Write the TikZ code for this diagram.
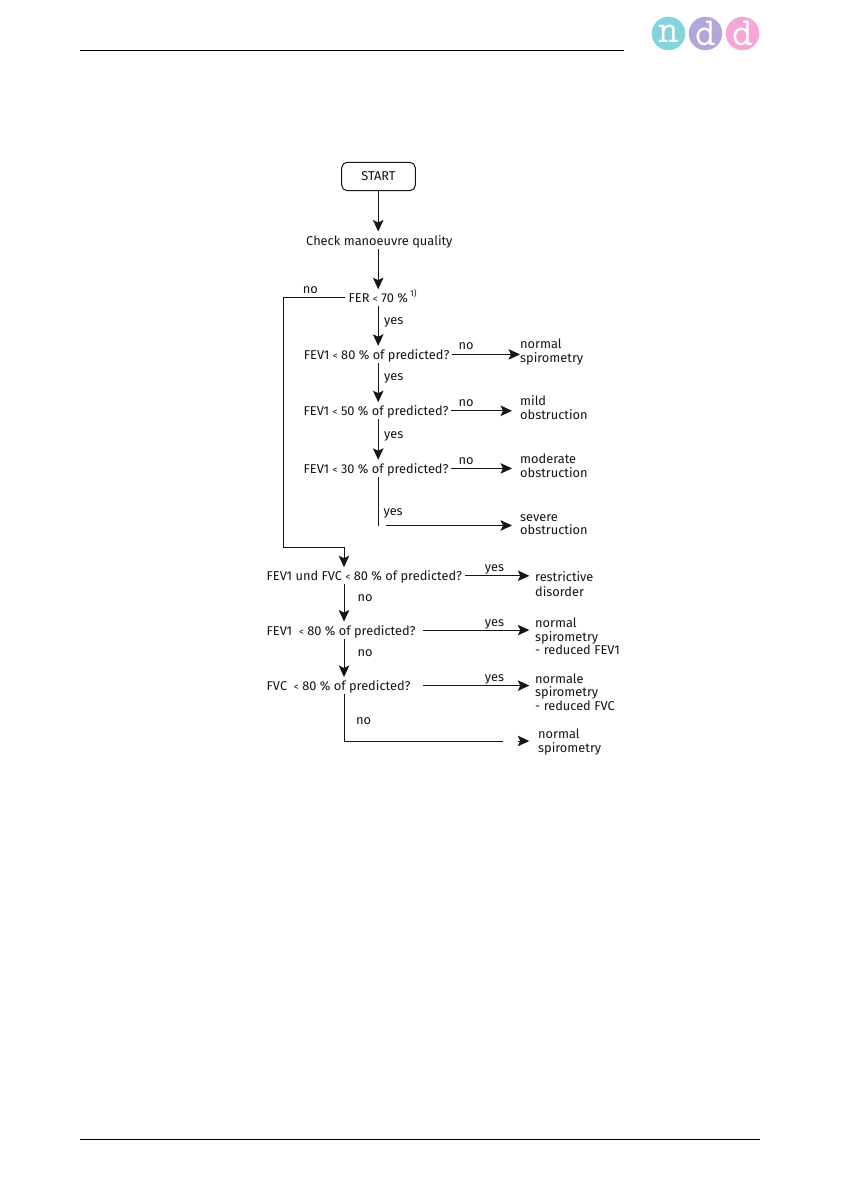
\documentclass[tikz,border=0pt]{standalone}
\usepackage{fontspec}
\setmainfont{Fira Sans}
\usetikzlibrary{arrows.meta}
\newcommand{\lessmark}{{\fontsize{10}{10}\selectfont <}}
\newcommand{\firstline}{\rule{0pt}{10pt}}
\definecolor{ink}{HTML}{151515}
\definecolor{logoteal}{HTML}{84D5DB}
\definecolor{logopurple}{HTML}{B3A6DA}
\definecolor{logopink}{HTML}{F6A6D4}
\tikzset{
  txt/.style={font=\fontsize{12.8}{13.5}\selectfont, text=ink},
  question/.style={txt, anchor=base west, inner xsep=2.5pt, inner ysep=3pt, text height=10.3pt, text depth=0.5pt},
  outcome/.style={txt, anchor=north west, inner sep=0pt, align=left},
  tag/.style={txt, anchor=base west, inner sep=0pt},
  startbox/.style={txt, draw=ink, line width=1pt, rounded corners=5.5pt, minimum width=73.6pt, minimum height=28.4pt, inner sep=0pt},
  wire/.style={draw=ink, line width=1pt},
  arr/.style={wire, -{Stealth[length=11.5pt,width=10.5pt,inset=2.5pt]}},
  rule/.style={draw=black, line width=0.8pt},
  logodisc/.style={circle, minimum size=33.5pt, inner sep=0pt, text=white, font=\ttfamily\fontsize{40}{40}\selectfont},
}
\begin{document}
\begin{tikzpicture}[x=1pt,y=-1pt]
\useasboundingbox (0,0) rectangle (840,1190);
\fill[white] (0,0) rectangle (840,1190);

% page furniture
\coordinate (hl) at (80,50); \coordinate (hr) at (624,50);
\coordinate (fl) at (80,1139); \coordinate (fr) at (760,1139);
\draw[rule] (hl) -- (hr);
\draw[rule] (fl) -- (fr);
\node[logodisc, fill=logoteal] (logon) at (668.5,33.5) {n};
\node[logodisc, fill=logopurple] (logod) at (705.5,33.5) {d};
\node[logodisc, fill=logopink] (logoe) at (742.5,33.5) {d};

% spines
\coordinate (spa) at (378.2,0);
\coordinate (spb) at (344,0);

% upper column
\node[startbox] (start) at (378.5,176.5) {START};
\node[question] (check) at (303.5,245) {Check manoeuvre quality};
\node[question, inner xsep=3.5pt] (fer) at (345,302.7) {FER \lessmark{} 70 \%\,\raisebox{6.5pt}{\fontsize{8.5}{8.5}\selectfont 1)}};
\node[question] (q80) at (301.2,359.3) {FEV1 \lessmark{} 80 \% of predicted?};
\node[question] (q50) at (301,415.7) {FEV1 \lessmark{} 50 \% of predicted?};
\node[question] (q30) at (301,473.3) {FEV1 \lessmark{} 30 \% of predicted?};

\node[outcome] (normal) at (520,338.7) {\firstline normal\\spirometry};
\node[outcome] (mild) at (520,395.7) {\firstline mild\\obstruction};
\node[outcome] (moderate) at (520,453.3) {\firstline moderate\\obstruction};
\node[outcome] (severe) at (520,511) {\firstline severe\\obstruction};

% lower column
\node[question] (qa) at (264,580.7) {FEV1 und FVC \lessmark{} 80 \% of predicted?};
\node[question] (qb) at (264,635) {FEV1 \ \lessmark{} 80 \% of predicted?};
\node[question] (qc) at (264,690.5) {FVC \ \lessmark{} 80 \% of predicted?};

\node[outcome] (restrictive) at (535,571.3) {\firstline restrictive\\[1.5pt]disorder};
\node[outcome] (redfev) at (535,617.3) {\firstline normal\\spirometry\\- reduced FEV1};
\node[outcome] (redfvc) at (535,673) {\firstline normale\\spirometry\\- reduced FVC};
\node[outcome] (plain) at (538,728.3) {\firstline normal\\spirometry};

% labels on connectors
\node[tag] (tno0) at (302.7,293) {no};
\node[tag] (ty1) at (384,324.5) {yes};
\node[tag] (tn1) at (458.3,349) {no};
\node[tag] (ty2) at (384,380) {yes};
\node[tag] (tn2) at (458.5,406.7) {no};
\node[tag] (ty3) at (384,438) {yes};
\node[tag] (tn3) at (458.5,464.3) {no};
\node[tag] (ty4) at (383.3,515) {yes};
\node[tag] (ty5) at (484.7,571.7) {yes};
\node[tag] (tn5) at (357.3,601.3) {no};
\node[tag] (ty6) at (484.7,626) {yes};
\node[tag] (tn6) at (357.3,656.7) {no};
\node[tag] (ty7) at (484.7,681) {yes};
\node[tag] (tn7) at (356,724) {no};

% helper points
\coordinate (bend) at (283,547);
\coordinate (yesdrop) at (378.2,525.5);
\coordinate (yesgo) at (386,525.5);
\coordinate (lastbend) at (344,741);
\coordinate (lastend) at (502.5,741);
\coordinate (lasthead) at (518,741);

% vertical connectors, upper column
\draw[arr] (start.south -| spa) -- (spa |- check.north);
\draw[arr] (spa |- check.south) -- (spa |- fer.north);
\draw[arr] (spa |- fer.south) -- (spa |- q80.north);
\draw[arr] (spa |- q80.south) -- (spa |- q50.north);
\draw[arr] (spa |- q50.south) -- (spa |- q30.north);
\draw[wire] (spa |- q30.south) -- (yesdrop);

% branches to outcomes
\draw[arr] (q80.east) -- (q80.east -| normal.west);
\draw[arr, shorten >=8pt] (q50.east) -- (q50.east -| mild.west);
\draw[arr, shorten >=8pt] (q30.east) -- (q30.east -| moderate.west);
\draw[arr, shorten >=8pt] (yesgo) -- (yesgo -| severe.west);

% no-branch from FER
\draw[wire] (fer.west) -| (bend) -- (bend -| spb);
\draw[arr] (bend -| spb) -- (spb |- qa.north);

% vertical connectors, lower column
\draw[arr] (spb |- qa.south) -- (spb |- qb.north);
\draw[arr] (spb |- qb.south) -- (spb |- qc.north);
\draw[wire] (spb |- qc.south) -- (lastbend) -- (lastend);
\draw[arr, shorten >=8.7pt] (lasthead) -- (lasthead -| plain.west);

% branches in lower column
\draw[arr, shorten >=5.7pt] (qa.east) -- (qa.east -| restrictive.west);
\coordinate (bx) at (423,0);
\draw[arr, shorten >=5.7pt] (bx |- qb.east) -- (qb.east -| redfev.west);
\draw[arr, shorten >=5.7pt] (bx |- qc.east) -- (qc.east -| redfvc.west);
\end{tikzpicture}
\end{document}
